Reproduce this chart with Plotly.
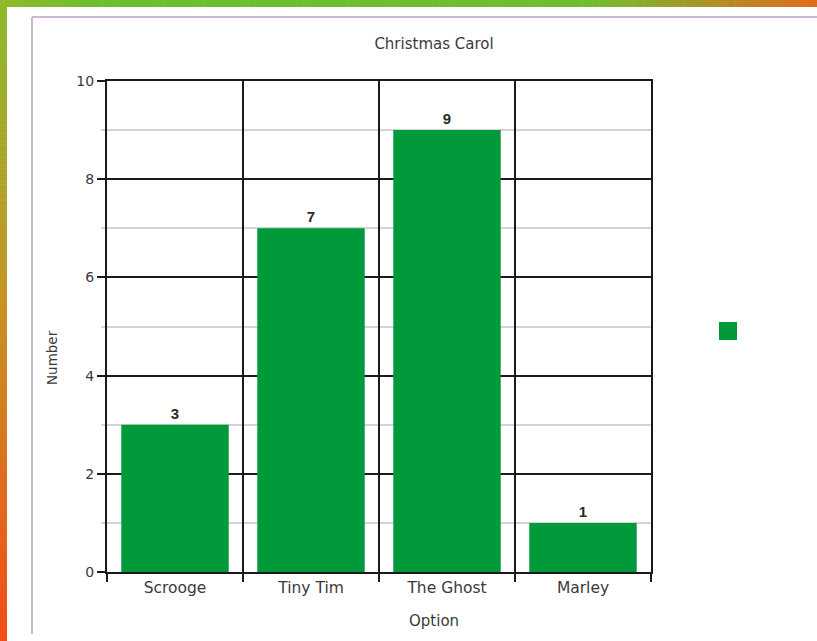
import plotly.graph_objects as go

categories = ["Scrooge", "Tiny Tim", "The Ghost", "Marley"]
values = [3, 7, 9, 1]
title_text = "Christmas Carol"
x_title = "Option"
y_title = "Number"
bar_color = "#009a3a"

W, H = 817, 641
L, R, T, B = 107, 651, 81, 572

def px(x):
    return (x - L) / (R - L)

def py(y):
    return (B - y) / (B - T)

def lerp_color(stops, t):
    for i in range(len(stops) - 1):
        t0, c0 = stops[i]
        t1, c1 = stops[i + 1]
        if t0 <= t <= t1:
            f = (t - t0) / (t1 - t0) if t1 > t0 else 0
            c = [round(c0[k] + (c1[k] - c0[k]) * f) for k in range(3)]
            return "rgb(%d,%d,%d)" % tuple(c)
    return "rgb(%d,%d,%d)" % tuple(stops[-1][1])

font = "DejaVu Sans, Liberation Sans, Arial"
txt = "#3a3a3a"

fig = go.Figure()
fig.add_trace(go.Bar(
    x=categories, y=values, marker_color=bar_color, marker_line_width=0,
    width=0.79, text=values, textposition="outside", cliponaxis=False,
    textfont=dict(family="Liberation Sans, Arial", size=15, color="#2a2a2a", weight="bold"),
    showlegend=False,
))
fig.add_trace(go.Scatter(
    x=[None], y=[None], mode="markers", name="",
    marker=dict(symbol="square", size=16, color=bar_color, line=dict(color=bar_color, width=2)),
    showlegend=True,
))

shapes = []
n = 80
top_stops = [(0, (143, 184, 41)), (0.12, (108, 191, 47)), (0.72, (112, 190, 46)), (1.0, (226, 107, 28))]
for i in range(n):
    x0 = i * W / n
    x1 = (i + 1) * W / n + 0.5
    shapes.append(dict(type="rect", xref="paper", yref="paper", x0=px(x0), x1=px(x1), y0=py(0), y1=py(7),
                       fillcolor=lerp_color(top_stops, (i + 0.5) / n), line_width=0, layer="above"))
left_stops = [(0, (140, 185, 42)), (0.45, (196, 150, 36)), (1.0, (242, 76, 25))]
for i in range(n):
    y0 = i * H / n
    y1 = (i + 1) * H / n + 0.5
    shapes.append(dict(type="rect", xref="paper", yref="paper", x0=px(0), x1=px(7), y0=py(y0), y1=py(y1),
                       fillcolor=lerp_color(left_stops, (i + 0.5) / n), line_width=0, layer="above"))
shapes.append(dict(type="line", xref="paper", yref="paper", x0=px(32), x1=px(W + 5), y0=py(17), y1=py(17),
                   line=dict(color="#cbb8d0", width=2)))
shapes.append(dict(type="line", xref="paper", yref="paper", x0=px(32), x1=px(32), y0=py(17), y1=py(634),
                   line=dict(color="#cbb8d0", width=2)))

annotations = [
    dict(text=x_title, xref="paper", yref="paper", x=px(434), y=py(621), showarrow=False,
         font=dict(family=font, size=15, color=txt), xanchor="center", yanchor="middle"),
    dict(text=y_title, xref="paper", yref="paper", x=px(52), y=py(358), showarrow=False, textangle=-90,
         font=dict(family=font, size=13.5, color=txt), xanchor="center", yanchor="middle"),
]

fig.update_layout(
    width=W, height=H,
    margin=dict(l=L, r=W - R, t=T, b=H - B, pad=0),
    paper_bgcolor="white", plot_bgcolor="white",
    title=dict(text=title_text, x=px(434), xref="paper", xanchor="center",
               y=1 - 44 / H, yref="container", yanchor="middle",
               font=dict(family=font, size=15, color=txt)),
    font=dict(family=font, size=14, color=txt),
    shapes=shapes,
    annotations=annotations,
    legend=dict(x=px(708), xanchor="left", y=py(331), yanchor="middle",
                bgcolor="rgba(0,0,0,0)", font=dict(size=12)),
    xaxis=dict(
        range=[-0.5, 3.5], tickson="boundaries", showgrid=True, gridcolor="#1a1a1a", gridwidth=2,
        showline=True, linecolor="#1a1a1a", linewidth=2, mirror=True,
        ticks="outside", ticklen=8, tickwidth=2, tickcolor="#1a1a1a",
        tickfont=dict(family=font, size=15.5, color=txt), zeroline=False, fixedrange=True,
    ),
    yaxis=dict(
        range=[0, 10], dtick=2, tick0=0, showgrid=True, gridcolor="#1a1a1a", gridwidth=2,
        showline=True, linecolor="#1a1a1a", linewidth=2, mirror=True,
        ticks="outside", ticklen=8, tickwidth=2, tickcolor="#1a1a1a",
        tickfont=dict(family=font, size=14, color=txt), zeroline=False, fixedrange=True,
        minor=dict(dtick=1, showgrid=True, gridcolor="#d4d4d4", gridwidth=2,
                   ticks="outside", ticklen=4, tickcolor="#d4d4d4", tickwidth=2),
    ),
)

fig.write_html("out.html", config={"displayModeBar": False},
               post_script="document.body.style.margin='0';document.body.style.padding='0';document.body.style.overflow='hidden';")
